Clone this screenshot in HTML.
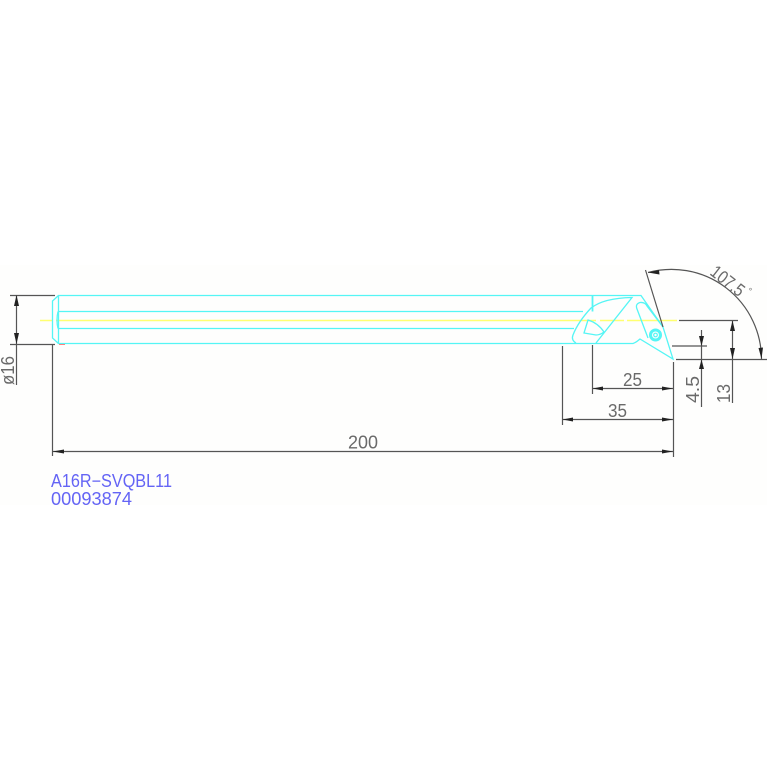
<!DOCTYPE html>
<html><head><meta charset="utf-8">
<style>
html,body{margin:0;padding:0;background:#fff}
svg{display:block}
text{font-family:"Liberation Sans",sans-serif}
</style></head>
<body>
<svg width="767" height="767" viewBox="0 0 767 767" xmlns="http://www.w3.org/2000/svg">
<rect width="767" height="767" fill="#fff"/>
<rect x="0" y="265" width="767" height="240" fill="#fefefd"/>
<!-- centerline -->
<path d="M40 320.5H52M56 320.5H596M600 320.5H624M627 320.5H677" stroke="#ffff70" stroke-width="1.6" fill="none"/>
<!-- body -->
<g fill="none" stroke="#55f5f5" stroke-width="1.3">
<path d="M58.5 295.5H641L663 327L673 359L640 339Q636 342.5 633 343.5H58.5Z"/>
<path d="M58.5 295.5L52.5 301V338L58.5 343.5"/>
<path d="M58 311.5H583M58 328.5H574M58 311.5Q56 320 58 328.5"/>
<path d="M592.5 295.5V311.5" stroke-width="1.8"/>
<path d="M576 343Q571 340 573 335Q578 322 591 308Q604 298 632 297.5L596 343"/>
<path d="M588 320L584 333L596 335Q600 335 604 332Q598 323 588 320Z"/>
<path d="M637 309Q635 304 640 302.5Q645 302 647 306L663 327M637 309L648 338"/>
<circle cx="655.5" cy="335" r="1.8" stroke-width="1.2"/>
<circle cx="655.5" cy="335" r="5" stroke-width="3"/>
</g>
<path d="M59 344.5H65" stroke="#ff8080" stroke-width="1"/>
<!-- dimensions -->
<g fill="none" stroke="#555" stroke-width="1.2">
<path d="M10 295.5H55M10 344.5H55M16.5 295V385M52.5 345V456"/>
<path d="M52 451.5H673M673.5 362V457M562.5 346V425M592.5 345V394M562 419.5H673M592 388.5H673"/>
<path d="M679 320.5H738M732.5 320V403M676 359.5H767M672 346H707M701.5 330V407"/>
<path d="M645.5 270L663 327"/>
<path d="M648 272.5A90 90 0 0 1 761.5 359" />
</g>
<g fill="#222" stroke="none">
<path d="M16.5 295L14 306H19Z"/>
<path d="M16.5 344L14 333H19Z"/>
<path d="M52.5 451.5L64 449.5V453.5Z"/>
<path d="M673 451.5L662 449.5V453.5Z"/>
<path d="M592.5 388.5L603 386.5V390.5Z"/>
<path d="M673 388.5L662 386.5V390.5Z"/>
<path d="M562.5 419.5L573 417.5V421.5Z"/>
<path d="M673 419.5L662 417.5V421.5Z"/>
<path d="M732.5 320.5L730 331H735Z"/>
<path d="M732.5 359L730 348H735Z"/>
<path d="M701.5 346L699 336H704Z"/>
<path d="M701.5 359.5L699 369H704Z"/>
<path d="M648 272.5L659 270L659.5 274.5Z"/>
<path d="M761.5 359L758.5 348L763 347.5Z"/>
</g>
<!-- labels -->
<g fill="#6a6a6a" font-size="18">
<text x="348" y="448.5" textLength="30" lengthAdjust="spacingAndGlyphs">200</text>
<text x="623" y="386" textLength="19" lengthAdjust="spacingAndGlyphs">25</text>
<text x="608" y="417" textLength="19" lengthAdjust="spacingAndGlyphs">35</text>
<text transform="translate(699 403) rotate(-90)" textLength="27" lengthAdjust="spacingAndGlyphs">4.5</text>
<text transform="translate(730 403) rotate(-90)" textLength="19" lengthAdjust="spacingAndGlyphs">13</text>
<text transform="translate(14 385) rotate(-90)" textLength="29" lengthAdjust="spacingAndGlyphs">ø16</text>
<text transform="translate(709 274) rotate(38)" textLength="38" lengthAdjust="spacingAndGlyphs">107.5</text>
<text transform="translate(746 292) rotate(38)" font-size="9">°</text>
</g>
<g fill="#6464f5" font-size="18">
<text x="51" y="487" textLength="121" lengthAdjust="spacingAndGlyphs">A16R−SVQBL11</text>
<text x="51" y="505" textLength="81" lengthAdjust="spacingAndGlyphs">00093874</text>
</g>
</svg>
</body></html>
